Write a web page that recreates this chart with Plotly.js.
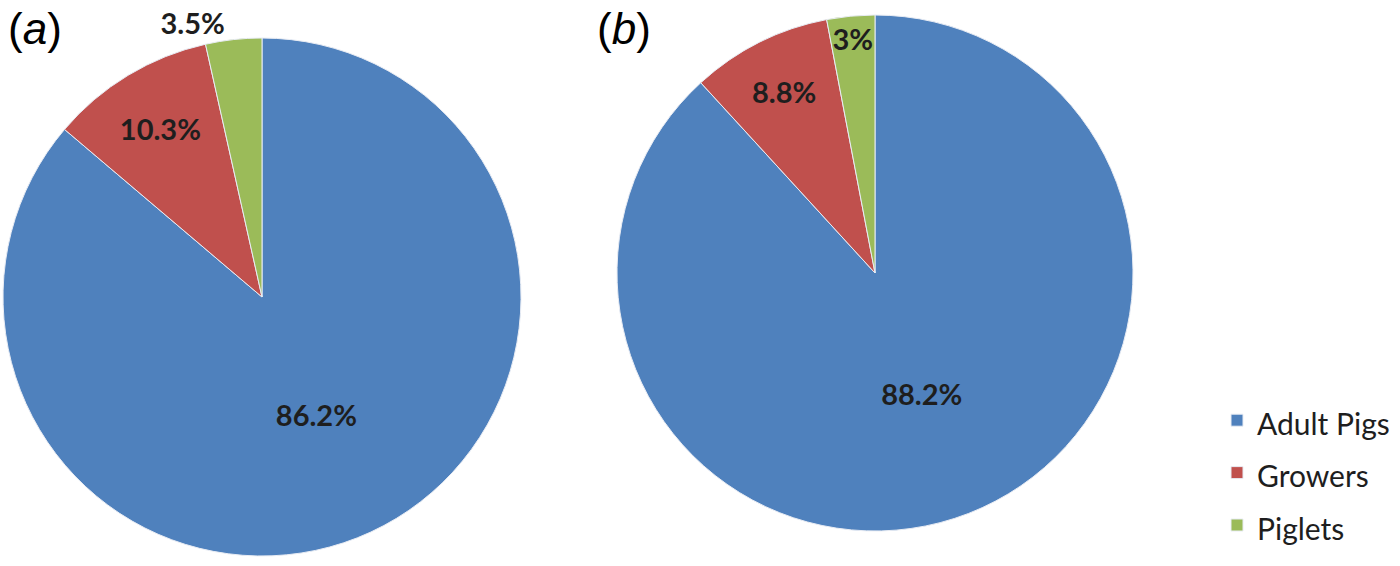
<!DOCTYPE html>
<html>
<head>
<meta charset="utf-8">
<script src="https://cdn.plot.ly/plotly-3.0.1.min.js"></script>
<style>
  body { margin: 0; background: #fff; }
  #chart { width: 1400px; height: 566px; }
</style>
</head>
<body>
<div id="chart"></div>
<script>
// share of each group, in percent
var groups = ['Adult Pigs', 'Growers', 'Piglets'];
var shareA = [86.2, 10.3, 3.5];
var shareB = [88.2, 8.8, 3];
var panelTitles = ['(<i>a</i>)', '(<i>b</i>)'];

var colors = ['#4F81BD', '#C0504D', '#9BBB59'];

// bigger legend font only sets the row spacing, the span keeps the text size
var legendNames = groups.map(function (g) {
    return '<span style="font-size:30px">' + g + '</span>';
});

var labelFont = {
    family: 'Lato, sans-serif',
    size: 29,
    color: '#1e1e1e',
    weight: 'bold'
};

// pie boxes in pixels: centre x, centre y, radius
function dom(cx, cy, r) {
    return { x: [(cx - r) / 1400, (cx + r) / 1400], y: [1 - (cy + r) / 566, 1 - (cy - r) / 566] };
}

var pieA = {
    type: 'pie',
    labels: legendNames,
    values: shareA,
    sort: false,
    direction: 'clockwise',
    rotation: 0,
    marker: { colors: colors, line: { color: '#e8ecf4', width: 1 } },
    texttemplate: '%{value}%',
    textposition: ['inside', 'inside', 'outside'],
    insidetextorientation: 'horizontal',
    textfont: labelFont,
    hoverinfo: 'skip',
    domain: dom(262, 297, 259)
};

var pieB = {
    type: 'pie',
    labels: legendNames,
    values: shareB,
    sort: false,
    direction: 'clockwise',
    rotation: 0,
    marker: { colors: colors, line: { color: '#e8ecf4', width: 1 } },
    texttemplate: '%{value}%',
    textposition: 'inside',
    insidetextorientation: 'horizontal',
    textfont: labelFont,
    hoverinfo: 'skip',
    domain: dom(875, 273, 258)
};

var layout = {
    width: 1400,
    height: 566,
    margin: { l: 0, r: 0, t: 0, b: 0 },
    paper_bgcolor: '#ffffff',
    font: { family: 'Lato, sans-serif', color: '#1e1e1e' },
    uniformtext: { minsize: 29, mode: 'show' },
    showlegend: true,
    legend: {
        x: 1217 / 1400,
        xanchor: 'left',
        y: 1 - 389 / 566,
        yanchor: 'top',
        font: { family: 'Lato, sans-serif', size: 38, color: '#1e1e1e' },
        bgcolor: 'rgba(0,0,0,0)'
    },
    annotations: [
        {
            text: panelTitles[0], xref: 'paper', yref: 'paper',
            x: 6 / 1400, xanchor: 'left', y: 1 - 28 / 566, yanchor: 'middle', showarrow: false,
            font: { family: 'Liberation Sans, Arial, sans-serif', size: 44, color: '#000' }
        },
        {
            text: panelTitles[1], xref: 'paper', yref: 'paper',
            x: 595 / 1400, xanchor: 'left', y: 1 - 28 / 566, yanchor: 'middle', showarrow: false,
            font: { family: 'Liberation Sans, Arial, sans-serif', size: 44, color: '#000' }
        }
    ]
};

Plotly.newPlot('chart', [pieA, pieB], layout, { displayModeBar: false, staticPlot: true });
</script>
</body>
</html>
